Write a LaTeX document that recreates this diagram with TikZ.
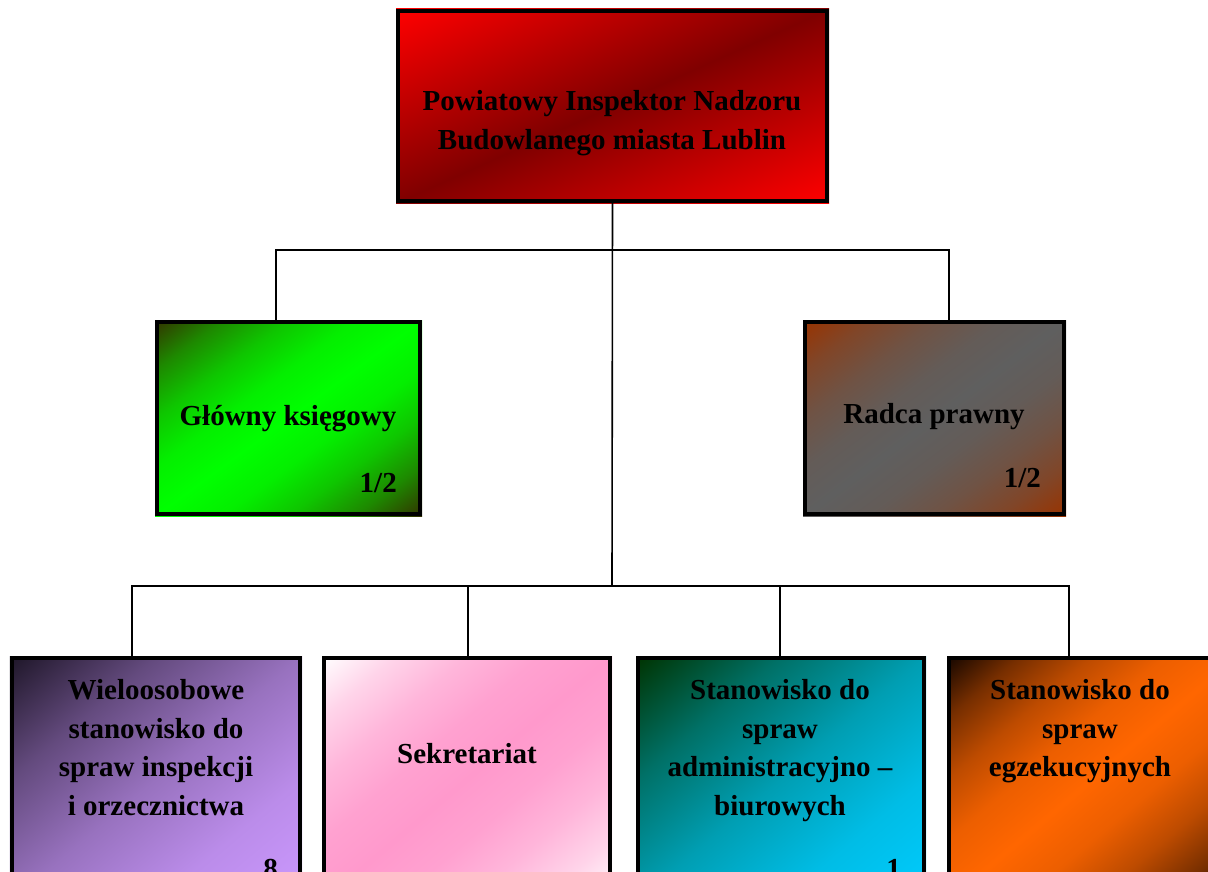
\documentclass[tikz,border=0pt]{standalone}
\usepackage{fontspec}
\setmainfont{Liberation Serif}
\usetikzlibrary{positioning, calc, backgrounds}

% ====== colours ======
\definecolor{chiefred}{HTML}{FF0000}
\definecolor{chiefdark}{HTML}{800000}
\definecolor{accdark}{HTML}{333300}
\definecolor{accgreen}{HTML}{00FF00}
\definecolor{lawbrown}{HTML}{993300}
\definecolor{lawgrey}{HTML}{5F5F5F}
\definecolor{inspdark}{HTML}{1E1628}
\definecolor{insplight}{HTML}{CC99FF}
\definecolor{secpink}{HTML}{FF99CC}
\definecolor{admdark}{HTML}{003300}
\definecolor{admcyan}{HTML}{00CCFF}
\definecolor{egzdark}{HTML}{140600}
\definecolor{egzorange}{HTML}{FF6600}

% ====== diagonal shadings (box corners sit at 14.6bp and 85.4bp) ======
% corner colour -> middle colour -> corner colour
\newcommand\bandshade[3]{%
	\pgfdeclarehorizontalshading{#1}{100bp}{color(0bp)=(#2); color(14.6bp)=(#2);
		color(23.45bp)=(#3!42!#2); color(32.3bp)=(#3!72!#2); color(41.15bp)=(#3!92!#2);
		color(50bp)=(#3); color(58.85bp)=(#3!92!#2); color(67.7bp)=(#3!72!#2);
		color(76.55bp)=(#3!42!#2); color(85.4bp)=(#2); color(100bp)=(#2)}}
% top-left colour -> bottom-right colour
\newcommand\rampshade[3]{%
	\pgfdeclarehorizontalshading{#1}{100bp}{color(0bp)=(#2); color(14.6bp)=(#2);
		color(32.3bp)=(#3!40!#2); color(50bp)=(#3!70!#2); color(67.7bp)=(#3!90!#2);
		color(85.4bp)=(#3); color(100bp)=(#3)}}

\pgfdeclarehorizontalshading{chiefshade}{100bp}{color(0bp)=(chiefred); color(14.6bp)=(chiefred); color(50bp)=(chiefdark); color(85.4bp)=(chiefred); color(100bp)=(chiefred)}
\bandshade{accshade}{accdark}{accgreen}
\bandshade{lawshade}{lawbrown}{lawgrey}
\rampshade{inspshade}{inspdark}{insplight}
\bandshade{secshade}{white}{secpink}
\rampshade{admshade}{admdark}{admcyan}
\bandshade{egzshade}{egzdark}{egzorange}

\begin{document}
\begin{tikzpicture}[x=1pt, y=-1pt,
	unit/.style={draw=black, line width=4pt, inner sep=0pt, anchor=north west},
	title/.style={font=\bfseries\fontsize{29}{38.7}\selectfont, align=center, inner sep=0pt},
	share/.style={font=\bfseries\fontsize{29}{38.7}\selectfont, inner sep=0pt, anchor=base east},
	link/.style={line width=1.6pt, draw=black}]
	% ====== page ======
	\path[use as bounding box] (0,0) rectangle (1208,872);
	\clip (0,0) rectangle (1208,872);
	
	% ====== boxes ======
	\node[unit, minimum width=429pt, minimum height=190pt] (chief) at (396,9) {};
	\node[unit, minimum width=263pt, minimum height=192pt] (account) at (155,320) {};
	\node[unit, minimum width=259pt, minimum height=192pt] (lawyer) at (803,320) {};
	\node[unit, minimum width=288pt, minimum height=242pt] (inspect) at (10,656) {};
	\node[unit, minimum width=286pt, minimum height=242pt] (office) at (322,656) {};
	\node[unit, minimum width=286pt, minimum height=242pt] (admin) at (636,656) {};
	\node[unit, minimum width=286pt, minimum height=242pt] (enforce) at (947,656) {};
	
	% ====== fills: a unit square shading stretched onto each box ======
	\begin{scope}[on background layer]
		\foreach \nm/\sh/\hw/\hh in {chief/chiefshade/216.5/97, account/accshade/133.5/98,
			lawyer/lawshade/131.5/98, inspect/inspshade/146/123, office/secshade/145/123,
			admin/admshade/145/123, enforce/egzshade/145/123}{
			\begin{scope}[transform canvas={shift={(\nm.center)}, xscale=\hw, yscale=\hh}]
				\shade[shading=\sh, shading angle=-45] (-1,-1) rectangle (1,1);
			\end{scope}
		}
	\end{scope}
	
	% ====== texts ======
	\node[title] (chiefT) at (612,123) {Powiatowy Inspektor Nadzoru\\Budowlanego miasta Lublin};
	\node[title, anchor=base] (accountT) at (288,425) {Główny księgowy};
	\node[share] (accountN) at (397,492) {1/2};
	\node[title, anchor=base] (lawyerT) at (934,423) {Radca prawny};
	\node[share] (lawyerN) at (1041,487) {1/2};
	\node[title, anchor=north] (inspectT) at (156,679) {Wieloosobowe\\stanowisko do\\spraw inspekcji\\i orzecznictwa};
	\node[share] (inspectN) at (278,878) {8};
	\node[title, anchor=base] (officeT) at (467,763) {Sekretariat};
	\node[title, anchor=north] (adminT) at (780,679) {Stanowisko do\\spraw\\administracyjno –\\biurowych};
	\node[share] (adminN) at (901,878) {1};
	\node[title, anchor=north] (enforceT) at (1080,679) {Stanowisko do\\spraw\\egzekucyjnych};
	
	% ====== connectors ======
	\coordinate (busL) at (276,250);
	\coordinate (busR) at (949,250);
	\coordinate (busM) at (612,586);
	\coordinate (b1) at (132,586);
	\coordinate (b2) at (468,586);
	\coordinate (b3) at (780,586);
	\coordinate (b4) at (1069,586);
	
	\draw[link] (chief.south) -- (busM);
	\draw[link] (busL |- account.north) -- (busL) -- (busR) -- (busR |- lawyer.north);
	\draw[link] (b1 |- inspect.north) -- (b1) -- (b4) -- (b4 |- enforce.north);
	\draw[link] (b2) -- (b2 |- office.north);
	\draw[link] (b3) -- (b3 |- admin.north);
\end{tikzpicture}
\end{document}
